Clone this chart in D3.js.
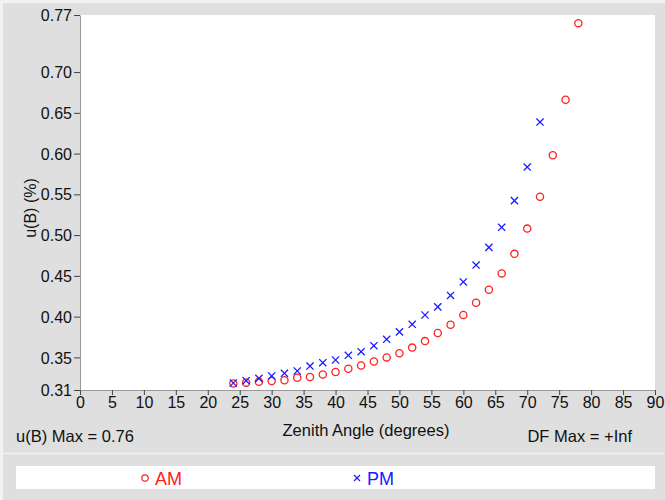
<!DOCTYPE html>
<html><head><meta charset="utf-8">
<script src="https://cdn.jsdelivr.net/npm/d3@7"></script>
<style>html,body{margin:0;padding:0;background:#f2f2f2;}svg{display:block;font-family:"Liberation Sans",Arial,sans-serif;}</style>
</head><body>
<svg id="c" width="665" height="500"></svg>
<script>
const angles = [24,26,28,30,32,34,36,38,40,42,44,46,48,50,52,54,56,58,60,62,64,66,68,70,72,74,76,78];
const amValues = [0.318,0.319,0.320,0.321,0.322,0.325,0.326,0.329,0.332,0.336,0.340,0.345,0.350,0.355,0.362,0.370,0.380,0.390,0.402,0.417,0.433,0.453,0.477,0.508,0.547,0.598,0.666,0.760];
const pmAngles = [24,26,28,30,32,34,36,38,40,42,44,46,48,50,52,54,56,58,60,62,64,66,68,70,72];
const pmValues = [0.3186,0.3214,0.3243,0.3272,0.3305,0.3333,0.3394,0.3435,0.3468,0.3526,0.357,0.3643,0.3722,0.3813,0.3906,0.402,0.412,0.426,0.4425,0.4633,0.485,0.5096,0.5423,0.5835,0.6387];
const xTicks = d3.range(0, 91, 5);
const yTicks = [0.31,0.35,0.40,0.45,0.50,0.55,0.60,0.65,0.70,0.77];

const svg = d3.select("#c");
svg.append("rect").attr("x",3).attr("y",3).attr("width",662).attr("height",497).attr("fill","#dfdfdf");
const L=80,R=655,T=15,B=390;
svg.append("rect").attr("x",L).attr("y",T).attr("width",R-L).attr("height",B-T).attr("fill","#fff");
const x = d3.scaleLinear().domain([0,90]).range([L,R]);
const y = d3.scaleLinear().domain([0.31,0.77]).range([B,T]);

const xa = svg.append("g").attr("transform",`translate(0,${B})`)
  .call(d3.axisBottom(x).tickValues(xTicks).tickSize(5).tickSizeOuter(0).tickPadding(2));
const ya = svg.append("g").attr("transform",`translate(${L},0)`)
  .call(d3.axisLeft(y).tickValues(yTicks).tickFormat(d3.format(".2f")).tickSize(6).tickSizeOuter(0).tickPadding(2));
[xa,ya].forEach(a=>{
  a.select(".domain").attr("stroke","#999");
  a.selectAll(".tick line").attr("stroke","#444");
  a.selectAll("text").attr("fill","#111").style("font-size","16px").style("font-family","'Liberation Sans',Arial,sans-serif");
});
ya.selectAll("text").attr("dy","0.35em");

// AM circles
svg.append("g").selectAll("circle").data(angles.map((a,i)=>[a,amValues[i]])).join("circle")
  .attr("cx",d=>x(d[0])).attr("cy",d=>y(d[1])).attr("r",3.6)
  .attr("fill","none").attr("stroke","#ff2020").attr("stroke-width",1.3);
// PM crosses
const s=3.6;
svg.append("g").selectAll("path").data(pmAngles.map((a,i)=>[a,pmValues[i]])).join("path")
  .attr("d",d=>{const cx=x(d[0]),cy=y(d[1]);return `M${cx-s},${cy-s}L${cx+s},${cy+s}M${cx-s},${cy+s}L${cx+s},${cy-s}`;})
  .attr("stroke","#1a1aff").attr("stroke-width",1.3).attr("fill","none");

// labels
svg.append("text").attr("transform","translate(36,208) rotate(-90)").attr("text-anchor","middle")
  .style("font-size","16px").attr("fill","#111").text("u(B) (%)");
svg.append("text").attr("x",366).attr("y",436).attr("text-anchor","middle").style("font-size","16.5px").attr("fill","#111").text("Zenith Angle (degrees)");
svg.append("text").attr("x",16).attr("y",442).style("font-size","16.5px").attr("fill","#111").text("u(B) Max = 0.76");
svg.append("text").attr("x",632).attr("y",442).attr("text-anchor","end").style("font-size","16.5px").attr("fill","#111").text("DF Max = +Inf");

// separator and legend
svg.append("line").attr("x1",3).attr("x2",665).attr("y1",453.5).attr("y2",453.5).attr("stroke","#f4f4f4").attr("stroke-width",1.5);
svg.append("rect").attr("x",16).attr("y",466).attr("width",639).attr("height",23).attr("fill","#fff");
svg.append("circle").attr("cx",145).attr("cy",478).attr("r",3.2).attr("fill","none").attr("stroke","#ff2020").attr("stroke-width",1.2);
svg.append("text").attr("x",155).attr("y",485).style("font-size","18px").attr("fill","#ff2020").text("AM");
const lx=357,ly=478,ls=3;
svg.append("path").attr("d",`M${lx-ls},${ly-ls}L${lx+ls},${ly+ls}M${lx-ls},${ly+ls}L${lx+ls},${ly-ls}`).attr("stroke","#1a1aff").attr("stroke-width",1.2);
svg.append("text").attr("x",367).attr("y",485).style("font-size","18px").attr("fill","#1a1aff").text("PM");
</script>
</body></html>
